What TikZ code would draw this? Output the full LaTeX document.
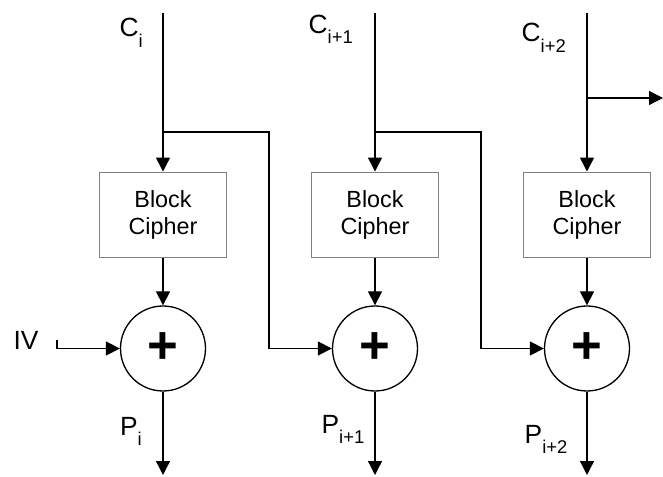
\documentclass[tikz,border=0pt]{standalone}
\usepackage{fontspec}
\setmainfont{Liberation Sans}
\usetikzlibrary{arrows.meta}
\newcommand{\lowsub}[1]{\raisebox{-5.7pt}{\fontsize{10.5}{12}\selectfont #1}}

\begin{document}
\begin{tikzpicture}[line width=0.75pt,
  arr/.style={-{Triangle[length=0.28cm,width=0.28cm]}},
  cipher/.style={draw=gray,line width=1.1pt,minimum width=2.54cm,minimum height=1.7cm,align=center,font=\fontsize{13.3}{15.5}\selectfont},
  xor/.style={draw,circle,minimum size=1.7cm,inner sep=0pt,font=\fontsize{30}{30}\selectfont\bfseries},
  lbl/.style={anchor=base west,inner sep=0pt,font=\fontsize{15}{17}\selectfont}]
\useasboundingbox (0,0) rectangle (13.26,-9.54);
\foreach \n/\x in {1/3.26,2/7.5,3/11.74}{
  \coordinate (top\n) at (\x,-0.26);
  \node[cipher] (bc\n) at (\x,-4.3) {Block\\Cipher};
  \node[xor] (x\n) at (\x,-6.97) {+};
  \coordinate (out\n) at (\x,-9.5);
  \draw[arr] (top\n) -- (bc\n);
  \draw[arr] (bc\n) -- (x\n);
  \draw[arr] (x\n) -- (out\n);
}
\coordinate (b1) at (3.26,-2.64);
\coordinate (k1) at (5.38,-2.64);
\coordinate (b2) at (7.5,-2.64);
\coordinate (k2) at (9.62,-2.64);
\coordinate (b3) at (11.74,-1.96);
\coordinate (nx) at (13.26,-1.96);
\draw[arr] (b1) -- (k1) |- (x2);
\draw[arr] (b2) -- (k2) |- (x3);
\draw[arr] (b3) -- (nx);
\node[lbl] (iv) at (0.26,-7.0) {IV};
\coordinate (ivt) at (1.14,-6.81);
\coordinate (ivs) at (1.14,-6.97);
\draw[arr] (ivt) -- (ivs) -- (x1);
\node[lbl] (ci) at (2.38,-0.74) {C\lowsub{i}};
\node[lbl] (ci1) at (6.16,-0.67) {C\lowsub{i+1}};
\node[lbl] (ci2) at (10.42,-0.84) {C\lowsub{i+2}};
\node[lbl] (pi) at (2.39,-8.7) {P\lowsub{i}};
\node[lbl] (pi1) at (6.42,-8.66) {P\lowsub{i+1}};
\node[lbl] (pi2) at (10.48,-8.86) {P\lowsub{i+2}};
\end{tikzpicture}
\end{document}
